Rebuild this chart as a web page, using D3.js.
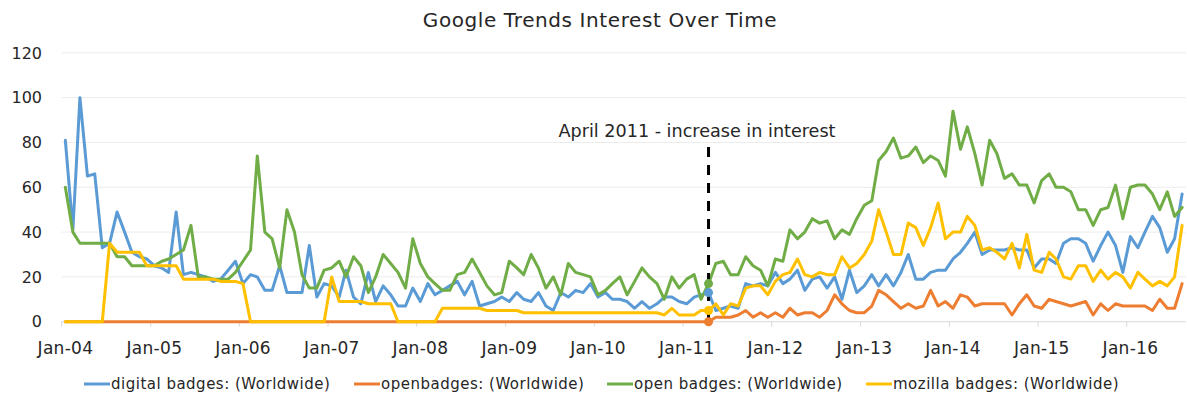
<!DOCTYPE html>
<html><head><meta charset="utf-8">
<script src="https://cdn.jsdelivr.net/npm/d3@7"></script>
<style>
html,body{margin:0;padding:0;background:#fff;}
svg text{font-family:"DejaVu Sans",sans-serif;fill:#262626;}
</style></head>
<body><svg id="chart" width="1187" height="399"></svg>
<script>
// ---- data (monthly, Jan 2004 .. Aug 2016) ----
const startYear = 2004, startMonth = 0;
const digitalBadges = [
81,41,100,65,66,33,35,49,40,31,29,28,
25,24,22,49,21,22,21,20,18,19,23,27,
17,21,20,14,14,25,13,13,13,34,11,17,
16,11,23,11,8,22,9,16,12,7,7,15,
9,17,12,14,16,18,12,18,7,8,9,11,
9,13,10,9,13,7,5,13,11,14,13,17,
11,13,10,10,9,6,9,6,8,11,11,9,
8,11,12,13,5,6,7,6,17,16,17,16,
22,17,19,23,14,19,20,15,20,10,23,13,
16,21,16,21,16,22,30,19,19,22,23,23,
28,31,35,40,30,32,32,32,33,32,32,24,
28,28,26,35,37,37,35,27,34,40,34,22,
38,33,40,47,42,31,37,57];
const openbadgesOne = [
0,0,0,0,0,0,0,0,0,0,0,0,
0,0,0,0,0,0,0,0,0,0,0,0,
0,0,0,0,0,0,0,0,0,0,0,0,
0,0,0,0,0,0,0,0,0,0,0,0,
0,0,0,0,0,0,0,0,0,0,0,0,
0,0,0,0,0,0,0,0,0,0,0,0,
0,0,0,0,0,0,0,0,0,0,0,0,
0,0,0,0,2,2,2,3,5,2,4,2,
4,2,6,3,4,4,2,5,12,8,5,4,
4,7,14,12,9,6,8,6,7,14,7,9,
6,12,11,7,8,8,8,8,3,8,12,7,
6,10,9,8,7,8,9,3,8,5,8,7,
7,7,7,5,10,6,6,17];
const openBadges = [
60,40,35,35,35,35,35,29,29,25,25,25,
25,27,28,30,32,43,20,20,19,19,19,22,
27,32,74,40,37,24,50,40,21,15,15,23,
24,27,20,29,25,13,20,30,26,22,15,37,
26,20,17,14,14,21,22,28,22,16,12,13,
27,24,21,30,24,15,20,12,26,22,21,20,
12,14,17,20,12,18,24,20,17,10,20,15,
19,21,10,17,26,27,21,21,29,25,23,16,
28,27,41,37,40,46,44,45,37,41,39,46,
52,54,72,76,82,73,74,78,71,74,72,65,
94,77,87,75,61,81,75,64,66,61,61,53,
63,66,60,60,58,50,50,43,50,51,61,46,
60,61,61,57,50,58,47,51];
const mozillaBadges = [
0,0,0,0,0,0,35,31,31,31,31,25,
25,25,25,25,19,19,19,19,19,18,18,18,
17,0,0,0,0,0,0,0,0,0,0,0,
20,9,9,9,9,8,8,8,8,0,0,0,
0,0,0,6,6,6,6,6,6,5,5,5,
5,5,4,4,4,4,4,4,4,4,4,4,
4,4,4,4,4,4,4,4,4,3,6,3,
3,3,5,5,8,3,8,7,15,16,16,12,
18,21,22,28,21,20,22,21,21,29,24,26,
30,36,50,40,30,30,44,42,34,42,53,37,
40,40,47,43,32,33,31,28,35,24,39,23,
22,31,28,20,19,25,25,18,23,19,22,20,
15,22,19,16,18,16,20,43];
const seriesNames = ["digital badges: (Worldwide)","openbadges: (Worldwide)","open badges: (Worldwide)","mozilla badges: (Worldwide)"];
const seriesColors = ["#5B9BD5","#ED7D31","#70AD47","#FFC000"];
const yTicks = [0,20,40,60,80,100,120];
const markerIndex = 87; // April 2011
const chartTitle = "Google Trends Interest Over Time";
const annotation = "April 2011 - increase in interest";

const allSeries = [digitalBadges, openbadgesOne, openBadges, mozillaBadges];
const nMonths = digitalBadges.length;
const monthDate = i => new Date(startYear, startMonth + i, 1);
const midDate = i => new Date(startYear, startMonth + i, 16);

const svg = d3.select("#chart");
svg.append("rect").attr("width",1187).attr("height",399).attr("fill","#fff");

const x = d3.scaleTime().domain([monthDate(0), monthDate(nMonths)]).range([61.7, 1186]);
const y = d3.scaleLinear().domain([0,120]).range([321.7, 52.9]);

// gridlines
svg.append("g").selectAll("line").data(yTicks.filter(d=>d>0)).join("line")
  .attr("x1",61.7).attr("x2",1186).attr("y1",d=>y(d)).attr("y2",d=>y(d))
  .attr("stroke","#ececec").attr("stroke-width",1);

// y labels
svg.append("g").selectAll("text").data(yTicks).join("text")
  .attr("x",42).attr("y",d=>y(d)).attr("dy","0.36em").attr("text-anchor","end")
  .attr("font-size",16).text(d=>d);

// x axis
const xAxisG = svg.append("g").attr("transform",`translate(0,${y(0)})`);
xAxisG.append("line").attr("x1",61.7).attr("x2",1186).attr("stroke","#d9d9d9").attr("stroke-width",1);
const years = d3.timeYear.range(monthDate(0), monthDate(nMonths));
const halfMonth = (x(monthDate(1)) - x(monthDate(0)))/2;
xAxisG.selectAll("line.tick").data(years).join("line").attr("class","tick")
  .attr("x1",d=>x(d)).attr("x2",d=>x(d)).attr("y1",0).attr("y2",5)
  .attr("stroke","#d9d9d9");
const fmt = d3.timeFormat("%b-%y");
xAxisG.selectAll("text").data(years).join("text")
  .attr("x",d=>x(d)+halfMonth).attr("y",32).attr("text-anchor","middle")
  .attr("font-size",17).attr("letter-spacing",0.3).text(d=>fmt(d));

// lines
const line = d3.line().x((d,i)=>x(midDate(i))).y(d=>y(d));
allSeries.forEach((s,k)=>{
  svg.append("path").datum(s).attr("d",line).attr("fill","none")
    .attr("stroke",seriesColors[k]).attr("stroke-width",3)
    .attr("stroke-linejoin","round").attr("stroke-linecap","round");
});

// dashed annotation line
const mx = x(midDate(markerIndex));
svg.append("line").attr("x1",mx).attr("x2",mx).attr("y1",147).attr("y2",y(0))
  .attr("stroke","#000").attr("stroke-width",3).attr("stroke-dasharray","10,8");

// markers
allSeries.forEach((s,k)=>{
  svg.append("circle").attr("cx",mx).attr("cy",y(s[markerIndex])).attr("r",4.5)
    .attr("fill",seriesColors[k]);
});

// annotation text
svg.append("text").attr("x",697).attr("y",137).attr("text-anchor","middle")
  .attr("font-size",17.6).text(annotation);

// title
svg.append("text").attr("x",600).attr("y",27).attr("text-anchor","middle")
  .attr("font-size",20).attr("letter-spacing",0.6).text(chartTitle);

// legend
const legendX = [84, 354, 607, 866];
const lg = svg.append("g");
seriesNames.forEach((n,k)=>{
  lg.append("line").attr("x1",legendX[k]).attr("x2",legendX[k]+26).attr("y1",384).attr("y2",384)
    .attr("stroke",seriesColors[k]).attr("stroke-width",3);
  lg.append("text").attr("x",legendX[k]+27).attr("y",384).attr("dy","0.36em")
    .attr("font-size",15).attr("letter-spacing",0.5).text(n);
});
</script></body></html>
